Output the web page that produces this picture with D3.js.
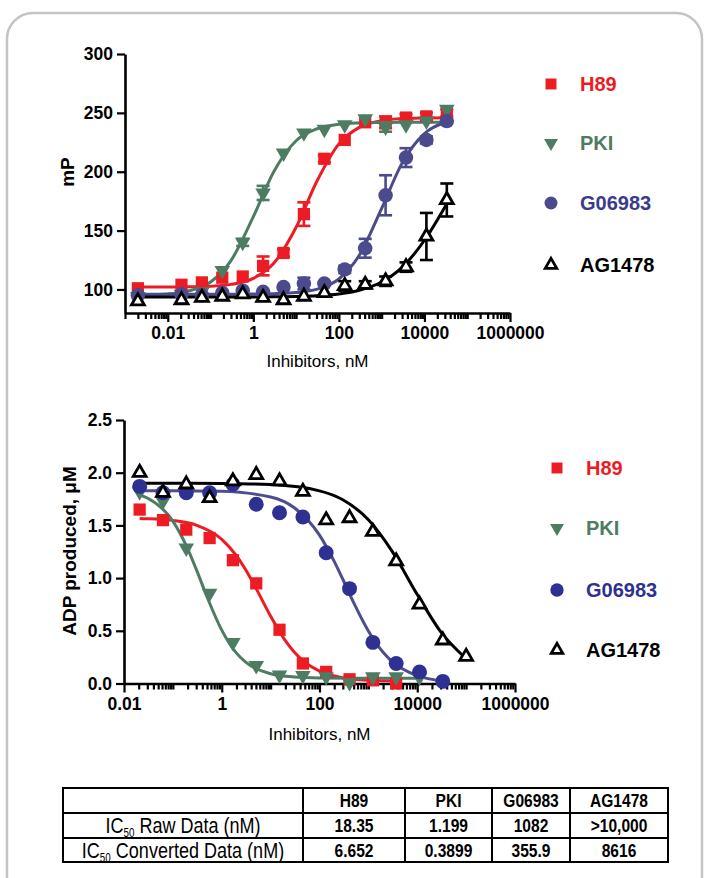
<!DOCTYPE html>
<html>
<head>
<meta charset="utf-8">
<script src="https://cdn.jsdelivr.net/npm/d3@7"></script>
<style>
  body { margin: 0; background: #fff; }
  svg { display: block; }
</style>
</head>
<body>
<div id="viz"></div>
<script>
// series names and colours
var names = ["H89", "PKI", "G06983", "AG1478"];

// top panel: fluorescence polarisation (mP) vs inhibitor, nM
var topConc = [0.002, 0.0209, 0.0627, 0.188, 0.565, 1.69, 5.08, 15.2, 45.7, 137, 412, 1235, 3704, 11111, 33333];
var topH89 = [101, 104, 106, 110, 111, 120, 131, 164, 211, 227, 242, 242, 246, 247, 250];
var topH89Err = [2, 1, 1, 2, 2, 8, 3, 10, 3, 2, 2, 5, 3, 3, 3];
var topPKI = [94, 96, 98, 116, 140, 182, 216, 233, 236, 240, 245, 238, 240, 243, 253];
var topPKIErr = [1, 1, 1, 2, 3, 6, 2, 2, 2, 2, 2, 4, 2, 2, 2];
var topG06983 = [95, 96, 95, 97, 99, 98, 102, 105, 105, 117, 135, 180, 212, 227, 243];
var topG06983Err = [2, 1, 1, 1, 2, 1, 2, 5, 2, 3, 8, 17, 8, 3, 2];
var topAG1478 = [90, 91, 93, 94, 96, 93, 91, 94, 97, 103, 104, 107, 119, 145, 176];
var topAG1478Err = [1, 1, 1, 1, 1, 1, 1, 1, 2, 4, 3, 4, 4, 20, 14];

// top panel fitted curves
var topFitConc = [0.002, 0.01, 0.03, 0.1, 0.3, 1, 3, 10, 30, 100, 300, 1000, 3000, 10000, 33333];
var topFitH89 = [102, 102, 102.2, 102.8, 104.3, 109.4, 122.2, 152.8, 191.3, 223.7, 237.7, 243.4, 245.1, 245.7, 245.9];
var topFitPKI = [95.2, 96.2, 98.6, 106.3, 124.5, 161.8, 200, 226.3, 236.3, 240.3, 241.4, 241.8, 242, 242, 242];
var topFitG06983 = [96, 96, 96, 96, 96, 96.1, 96.4, 97.4, 100.1, 108.9, 129, 168.9, 207.3, 232.4, 242.2];
var topFitAG1478 = [93.5, 93.5, 93.5, 93.5, 93.6, 93.6, 93.7, 94.1, 94.7, 96.2, 99.3, 106.3, 118.7, 141.8, 172.9];

// bottom panel: ADP produced (uM) vs inhibitor, nM
var botConc = [0.0209, 0.0627, 0.188, 0.565, 1.69, 5.08, 15.2, 45.7, 137, 412, 1235, 3704, 11111, 33333, 100000];
var botH89 = [1.65, 1.55, 1.46, 1.38, 1.17, 0.95, 0.51, 0.19, 0.11, 0.04, 0.03, 0.0];
var botPKI = [1.82, 1.73, 1.285, 0.857, 0.39, 0.17, 0.08, 0.075, 0.065, 0.01, 0.065, 0.065, 0.06];
var botG06983 = [1.87, 1.81, 1.81, 1.81, 1.89, 1.70, 1.62, 1.58, 1.24, 0.90, 0.39, 0.19, 0.11, 0.02];
var botAG1478 = [2.0, 1.81, 1.89, 1.76, 1.92, 1.98, 1.92, 1.82, 1.55, 1.57, 1.44, 1.16, 0.75, 0.41, 0.255];

// bottom panel fitted curves
var botFitH89X = [0.0209, 0.03, 0.1, 0.3, 1, 2, 3, 5, 10, 20, 30, 50, 100, 300, 1000, 3704];
var botFitH89 = [1.565, 1.563, 1.547, 1.503, 1.368, 1.212, 1.088, 0.905, 0.639, 0.406, 0.301, 0.202, 0.117, 0.054, 0.030, 0.023];
var botFitPKIX = [0.0209, 0.03, 0.1, 0.2, 0.3, 0.5, 1, 2, 3, 10, 30, 100, 1000, 11111];
var botFitPKI = [1.79, 1.76, 1.54, 1.28, 1.085, 0.822, 0.506, 0.288, 0.207, 0.092, 0.062, 0.053, 0.050, 0.050];
var botFitG06983X = [0.0209, 0.1, 1, 10, 30, 100, 200, 300, 500, 1000, 2000, 3000, 10000, 33333];
var botFitG06983 = [1.83, 1.829, 1.823, 1.77, 1.67, 1.408, 1.159, 0.989, 0.768, 0.499, 0.297, 0.213, 0.074, 0.024];
var botFitAG1478X = [0.0209, 0.1, 1, 10, 100, 300, 1000, 3000, 10000, 30000, 100000];
var botFitAG1478 = [1.9, 1.9, 1.898, 1.887, 1.828, 1.743, 1.554, 1.261, 0.844, 0.493, 0.236];

// tick labels
var topYTicks = [100, 150, 200, 250, 300];
var botYTicks = [0.0, 0.5, 1.0, 1.5, 2.0, 2.5];
var xTicks = [0.01, 1, 100, 10000, 1000000];

// IC50 table
var tableHeader = ["", "H89", "PKI", "G06983", "AG1478"];
var ic50Raw = ["18.35", "1.199", "1082", ">10,000"];
var ic50Converted = ["6.652", "0.3899", "355.9", "8616"];

var font = "'Liberation Sans', Arial, sans-serif";

var svg = d3.select("#viz")
  .append("svg")
    .attr("width", 704)
    .attr("height", 878);

svg.append("rect")
    .attr("width", 704).attr("height", 878)
    .attr("fill", "#fff");

// card outline
svg.append("rect")
    .attr("x", 7).attr("y", 13)
    .attr("width", 695).attr("height", 900)
    .attr("rx", 26)
    .attr("fill", "none")
    .attr("stroke", "#c4c4c4")
    .attr("stroke-width", 2.5);

function minorTicks(lo, hi) {
  var out = [];
  for (var e = lo; e < hi; e++) {
    for (var m = 1; m < 10; m++) {
      var v = +(m * Math.pow(10, e)).toPrecision(3);
      if (xTicks.indexOf(v) < 0) out.push(v);
    }
  }
  return out;
}

function styleAxis(g) {
  g.select(".domain").attr("stroke", "#000").attr("stroke-width", 2.6);
  g.selectAll(".tick line").attr("stroke", "#000").attr("stroke-width", 2.2);
  g.selectAll(".tick text")
    .attr("fill", "#000")
    .style("font-family", font)
    .style("font-weight", "bold")
    .style("font-size", "17.5px");
}

function drawPanel(p) {
  var g = svg.append("g");

  // x axis: labelled decades plus minor ticks
  var gx = g.append("g")
      .attr("transform", "translate(0," + p.y.range()[0] + ")")
      .call(d3.axisBottom(p.x).tickValues(xTicks).tickFormat(function(d) { return String(d); })
        .tickSize(9).tickSizeOuter(0).tickPadding(5));
  styleAxis(gx);
  var gm = g.append("g")
      .attr("transform", "translate(0," + p.y.range()[0] + ")")
      .call(d3.axisBottom(p.x).tickValues(p.minor).tickFormat("").tickSize(6).tickSizeOuter(0));
  styleAxis(gm);
  gm.select(".domain").remove();

  // y axis
  var gy = g.append("g")
      .attr("transform", "translate(" + p.x.range()[0] + ",0)")
      .call(d3.axisLeft(p.y).tickValues(p.yTicks).tickFormat(p.yFormat)
        .tickSize(8).tickSizeOuter(0).tickPadding(4));
  styleAxis(gy);

  g.append("text")
      .attr("x", (p.x.range()[0] + p.x.range()[1]) / 2)
      .attr("y", p.titleY)
      .attr("text-anchor", "middle")
      .style("font-family", font)
      .style("font-size", "17px")
      .text("Inhibitors, nM");

  g.append("text")
      .attr("transform", "translate(" + p.yTitleX + "," + p.yTitleY + ") rotate(-90)")
      .attr("text-anchor", "middle")
      .style("font-family", font)
      .style("font-weight", "bold")
      .style("font-size", "19px")
      .text(p.yTitle);

  var line = d3.line()
      .defined(function(d) { return d[1] != null; })
      .x(function(d) { return p.x(d[0]); })
      .y(function(d) { return p.y(d[1]); })
      .curve(d3.curveMonotoneX);

  // fitted curves
  p.series.forEach(function(s) {
    var pts = d3.zip(s.fitX, s.fit);
    g.append("path")
        .datum(pts)
        .attr("d", line)
        .attr("fill", "none")
        .attr("stroke", s.lineColor)
        .attr("stroke-width", 3);
  });

  // error bars and markers
  p.series.forEach(function(s) {
    var pts = s.values.map(function(v, i) { return {c: p.conc[i], v: v, e: s.err ? s.err[i] : 0}; });
    var eb = g.append("g").attr("stroke", s.edge).attr("stroke-width", 2.6);
    pts.filter(function(d) { return d.e > 2; }).forEach(function(d) {
      var cx = p.x(d.c);
      eb.append("line").attr("x1", cx).attr("x2", cx).attr("y1", p.y(d.v - d.e)).attr("y2", p.y(d.v + d.e));
      eb.append("line").attr("x1", cx - 6.5).attr("x2", cx + 6.5).attr("y1", p.y(d.v - d.e)).attr("y2", p.y(d.v - d.e));
      eb.append("line").attr("x1", cx - 6.5).attr("x2", cx + 6.5).attr("y1", p.y(d.v + d.e)).attr("y2", p.y(d.v + d.e));
    });
    g.append("g").selectAll("path")
      .data(pts)
      .enter()
      .append("path")
        .attr("d", d3.symbol().type(s.shape).size(s.size))
        .attr("transform", function(d) {
          return "translate(" + p.x(d.c) + "," + p.y(d.v) + ")" + (s.flip ? " rotate(180)" : "");
        })
        .attr("fill", s.fill)
        .attr("stroke", s.stroke)
        .attr("stroke-width", s.stroke == "none" ? 0 : 2.8);
  });

  // legend
  p.series.forEach(function(s, i) {
    var ly = p.legendY[i];
    g.append("path")
        .attr("d", d3.symbol().type(s.shape).size(s.size * 0.8))
        .attr("transform", "translate(" + p.legendX + "," + ly + ")" + (s.flip ? " rotate(180)" : ""))
        .attr("fill", s.fill)
        .attr("stroke", s.stroke)
        .attr("stroke-width", s.stroke == "none" ? 0 : 2.8);
    g.append("text")
        .attr("x", p.legendX + 29)
        .attr("y", ly)
        .attr("dy", "0.36em")
        .attr("fill", s.textColor)
        .style("font-family", font)
        .style("font-weight", "bold")
        .style("font-size", "20px")
        .text(names[i]);
  });
}

var red = "#ed1c24", green = "#4d7c62", black = "#000";

drawPanel({
  x: d3.scaleLog().domain([0.001, 1000000]).range([125, 510]),
  y: d3.scaleLinear().domain([80, 300]).range([313, 54]),
  minor: minorTicks(-3, 6),
  yTicks: topYTicks,
  yFormat: d3.format("d"),
  titleY: 367,
  yTitle: "mP",
  yTitleX: 74,
  yTitleY: 172,
  conc: topConc,
  legendX: 551,
  legendY: [84, 143, 203, 265],
  series: [
    {values: topH89, err: topH89Err, fitX: topFitConc, fit: topFitH89, shape: d3.symbolSquare, size: 150, fill: red, stroke: "none", edge: red, lineColor: red, textColor: red},
    {values: topPKI, err: topPKIErr, fitX: topFitConc, fit: topFitPKI, shape: d3.symbolTriangle, flip: true, size: 105, fill: green, stroke: "none", edge: green, lineColor: green, textColor: green},
    {values: topG06983, err: topG06983Err, fitX: topFitConc, fit: topFitG06983, shape: d3.symbolCircle, size: 165, fill: "#4a4a8c", stroke: "none", edge: "#4a4a8c", lineColor: "#4a4a8c", textColor: "#3a3b8c"},
    {values: topAG1478, err: topAG1478Err, fitX: topFitConc, fit: topFitAG1478, shape: d3.symbolTriangle, size: 72, fill: "#fff", stroke: black, edge: black, lineColor: black, textColor: black}
  ]
});

drawPanel({
  x: d3.scaleLog().domain([0.01, 1000000]).range([124, 515]),
  y: d3.scaleLinear().domain([0, 2.5]).range([683.5, 420]),
  minor: minorTicks(-2, 6),
  yTicks: botYTicks,
  yFormat: d3.format(".1f"),
  titleY: 740,
  yTitle: "ADP produced, \u03bcM",
  yTitleX: 76,
  yTitleY: 551,
  conc: botConc,
  legendX: 557,
  legendY: [468, 528, 590, 650],
  series: [
    {values: botH89, fitX: botFitH89X, fit: botFitH89, shape: d3.symbolSquare, size: 150, fill: red, stroke: "none", edge: red, lineColor: red, textColor: red},
    {values: botPKI, fitX: botFitPKIX, fit: botFitPKI, shape: d3.symbolTriangle, flip: true, size: 105, fill: green, stroke: "none", edge: green, lineColor: green, textColor: green},
    {values: botG06983, fitX: botFitG06983X, fit: botFitG06983, shape: d3.symbolCircle, size: 175, fill: "#2e3192", stroke: "none", edge: "#2e3192", lineColor: "#4d4d8f", textColor: "#2e3192"},
    {values: botAG1478, fitX: botFitAG1478X, fit: botFitAG1478, shape: d3.symbolTriangle, size: 72, fill: "#fff", stroke: black, edge: black, lineColor: black, textColor: black}
  ]
});

// IC50 table
var colX = [63, 303, 405, 492, 570, 668];
var rowY = [788, 813, 838, 862];
var tg = svg.append("g");

tg.append("rect")
    .attr("x", colX[0]).attr("y", rowY[0])
    .attr("width", colX[5] - colX[0]).attr("height", rowY[3] - rowY[0])
    .attr("fill", "none").attr("stroke", "#000").attr("stroke-width", 2);
colX.slice(1, 5).forEach(function(cx) {
  tg.append("line").attr("x1", cx).attr("x2", cx).attr("y1", rowY[0]).attr("y2", rowY[3])
    .attr("stroke", "#000").attr("stroke-width", 2);
});
rowY.slice(1, 3).forEach(function(ry) {
  tg.append("line").attr("x1", colX[0]).attr("x2", colX[5]).attr("y1", ry).attr("y2", ry)
    .attr("stroke", "#000").attr("stroke-width", 2);
});

// narrow look: squeeze the text horizontally
function cell(text, col, row, bold) {
  var cx = (colX[col] + colX[col + 1]) / 2,
      cy = (rowY[row] + rowY[row + 1]) / 2;
  return tg.append("text")
      .attr("transform", "translate(" + cx + "," + cy + ") scale(0.82,1)")
      .attr("dy", "0.36em")
      .attr("text-anchor", "middle")
      .style("font-family", font)
      .style("font-weight", bold ? "bold" : "normal")
      .style("font-size", "19px")
      .text(text);
}

tableHeader.forEach(function(h, i) { if (h) cell(h, i, 0, true); });
ic50Raw.forEach(function(v, i) { cell(v, i + 1, 1, true); });
ic50Converted.forEach(function(v, i) { cell(v, i + 1, 2, true); });

[["Raw Data (nM)", 1], ["Converted Data (nM)", 2]].forEach(function(r) {
  var t = cell("", 0, r[1], false).style("font-size", "22px");
  t.append("tspan").text("IC");
  t.append("tspan").attr("dy", 4).style("font-size", "12px").text("50");
  t.append("tspan").attr("dy", -4).text(" " + r[0]);
});
</script>
</body>
</html>
